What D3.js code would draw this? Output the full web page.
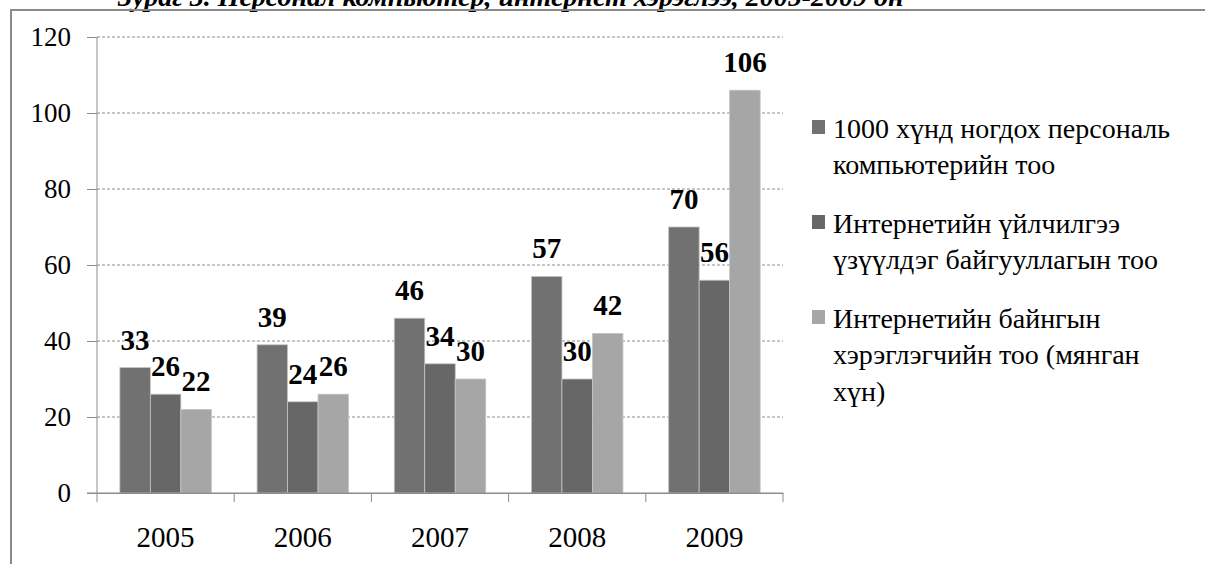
<!DOCTYPE html>
<html>
<head>
<meta charset="utf-8">
<script src="https://cdn.jsdelivr.net/npm/d3@7"></script>
<style>
  body { margin: 0; background: #fff; }
  svg text { font-family: "Liberation Serif", "Tinos", "Times New Roman", "DejaVu Serif", serif !important; }
</style>
</head>
<body>
<div id="chart"></div>
<script>

const years = ["2005", "2006", "2007", "2008", "2009"];
const seriesNames = ["pc", "org", "users"];
const pcPer1000 = [33, 39, 46, 57, 70];
const orgCount = [26, 24, 34, 30, 56];
const userCount = [22, 26, 30, 42, 106];
const yTicks = [0, 20, 40, 60, 80, 100, 120];
const legendLabels = [
    ["1000 хүнд ногдох персональ", "компьютерийн тоо"],
    ["Интернетийн үйлчилгээ", "үзүүлдэг байгууллагын тоо"],
    ["Интернетийн байнгын", "хэрэглэгчийн тоо (мянган", "хүн)"]
];
const titleText = "Зураг 3. Персонал компьютер, интернет хэрэглээ, 2005-2009 он";

const colours = ["#717171", "#676767", "#a6a6a6"];

const width = 1205;
const height = 564;
const plotLeft = 97, plotRight = 783, plotTop = 37, plotBottom = 493;

let svg = d3.select("#chart")
    .append("svg")
    .attr("width", width)
    .attr("height", height);

// title, cut off at the top edge like in the source picture
svg.append("text")
    .attr("x", 118)
    .attr("y", 6)
    .style("font-size", "28px")
    .style("font-weight", "bold")
    .style("font-style", "italic")
    .text(titleText);

// outer frame
svg.append("rect")
    .attr("x", 11)
    .attr("y", 10)
    .attr("width", 1300)
    .attr("height", 700)
    .attr("fill", "none")
    .attr("stroke", "#8a8a8a")
    .attr("stroke-width", 2);

let data = years.map((y, i) => ({
    year: y,
    values: [pcPer1000[i], orgCount[i], userCount[i]]
}));

let yScale = d3.scaleLinear().domain([0, 120]).range([plotBottom, plotTop]);
let x0 = d3.scaleBand().domain(years).range([plotLeft, plotRight]).padding(0);
let x1 = d3.scaleBand().domain(seriesNames).range([0, x0.bandwidth()])
    .paddingInner(0).paddingOuter(0.75);

// gridlines
svg.append("g")
    .selectAll("line")
    .data(yTicks.filter(d => d > 0))
    .join("line")
    .attr("x1", plotLeft)
    .attr("x2", plotRight)
    .attr("y1", d => yScale(d))
    .attr("y2", d => yScale(d))
    .attr("stroke", "#8c8c8c")
    .attr("stroke-width", 1)
    .attr("stroke-dasharray", "3,2");

// y axis
let yAxis = d3.axisLeft(yScale)
    .tickValues(yTicks)
    .tickSize(10)
    .tickPadding(16);

svg.append("g")
    .attr("transform", `translate(${plotLeft},0)`)
    .call(yAxis)
    .call(g => g.selectAll("line, path").attr("stroke", "#8c8c8c"))
    .call(g => g.select(".domain").attr("d", `M0,${plotTop}V${plotBottom}`))
    .call(g => g.selectAll("text")
        .attr("fill", "#000")
        .style("font-size", "27px"));

// bars
let groups = svg.append("g")
    .selectAll("g")
    .data(data)
    .join("g")
    .attr("transform", d => `translate(${x0(d.year)},0)`);

groups.selectAll("rect")
    .data(d => d.values.map((v, i) => ({ key: seriesNames[i], value: v, i: i })))
    .join("rect")
    .attr("x", d => x1(d.key))
    .attr("width", x1.bandwidth())
    .attr("y", d => yScale(d.value))
    .attr("height", d => plotBottom - yScale(d.value))
    .attr("fill", d => colours[d.i])
    .attr("stroke", "#c4c4c4")
    .attr("stroke-width", 0.8);

groups.selectAll("text")
    .data(d => d.values.map((v, i) => ({ key: seriesNames[i], value: v })))
    .join("text")
    .attr("x", d => x1(d.key) + x1.bandwidth() / 2)
    .attr("y", d => yScale(d.value) - 18)
    .attr("text-anchor", "middle")
    .style("font-size", "29px")
    .style("font-weight", "bold")
    .text(d => d.value);

// x axis
let xAxis = d3.axisBottom(x0).tickSize(0).tickPadding(33);

svg.append("g")
    .attr("transform", `translate(0,${plotBottom})`)
    .call(xAxis)
    .call(g => g.select(".domain").attr("stroke", "#8c8c8c"))
    .call(g => g.selectAll("text")
        .attr("fill", "#000")
        .style("font-size", "29px"));

svg.append("g")
    .selectAll("line")
    .data(years.map(y => x0(y)).concat([plotRight]))
    .join("line")
    .attr("x1", d => d)
    .attr("x2", d => d)
    .attr("y1", plotBottom)
    .attr("y2", plotBottom + 9)
    .attr("stroke", "#8c8c8c");

svg.append("line")
    .attr("x1", plotLeft - 10)
    .attr("x2", plotRight)
    .attr("y1", plotBottom)
    .attr("y2", plotBottom)
    .attr("stroke", "#8c8c8c");

// legend
let legendTop = [128, 223, 318];
let legend = svg.append("g")
    .selectAll("g")
    .data(legendLabels)
    .join("g")
    .attr("transform", (d, i) => `translate(812,${legendTop[i]})`);

legend.append("rect")
    .attr("x", 0)
    .attr("y", -8)
    .attr("width", 13)
    .attr("height", 14)
    .attr("fill", (d, i) => colours[i]);

legend.append("text")
    .style("font-size", "28px")
    .attr("fill", "#000")
    .selectAll("tspan")
    .data(d => d)
    .join("tspan")
    .attr("x", 21)
    .attr("y", (d, i) => i * 36.5)
    .attr("dy", "0.35em")
    .text(d => d);

</script>
</body>
</html>
